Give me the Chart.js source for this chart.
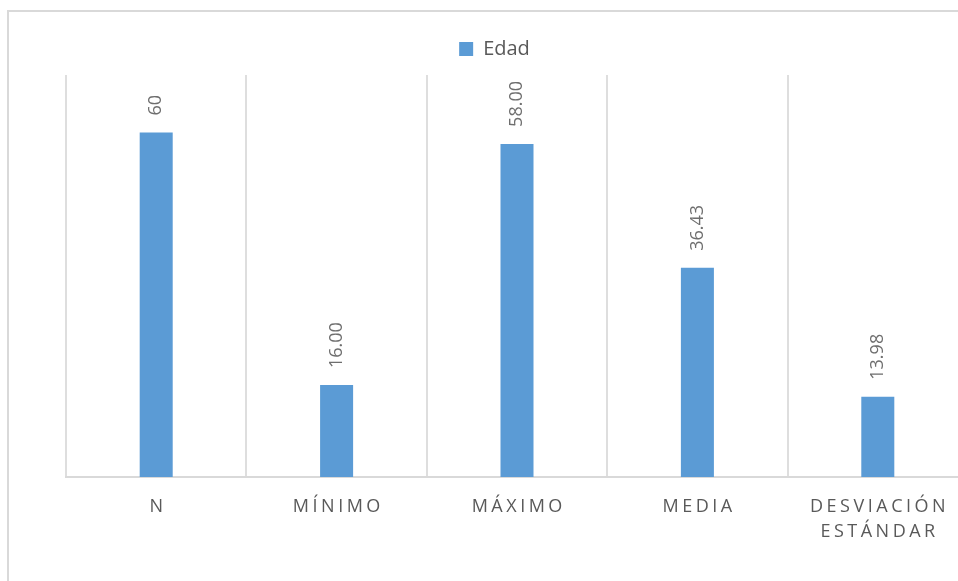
<!DOCTYPE html>
<html lang="es">
<head>
<meta charset="utf-8">
<title>Edad</title>
<script src="https://cdn.jsdelivr.net/npm/chart.js@4/dist/chart.umd.min.js"></script>
<style>
    html, body { margin: 0; padding: 0; background: #fff; overflow: hidden; }
    body { width: 958px; height: 581px; position: relative; }
    /* marco exterior del gráfico */
    .frame { position: absolute; left: 7px; top: 10px; width: 1100px; height: 700px; border: 2px solid #d9d9d9; }
    #edadChart { position: absolute; left: 0; top: 0; }
</style>
</head>
<body>
<div class="frame"></div>
<canvas id="edadChart" width="1000" height="620"></canvas>
<script>
    // Datos de la tabla descriptiva
    const categorias = ['N', 'MÍNIMO', 'MÁXIMO', 'MEDIA', ['DESVIACIÓN', 'ESTÁNDAR']];
    const edad = [60, 16.00, 58.00, 36.43, 13.98];
    const decimales = [0, 2, 2, 2, 2];

    const azul = '#5B9BD5';
    const gris = '#595959';
    const fuente = "'Open Sans', 'DejaVu Sans', sans-serif";

    // Etiquetas de valor giradas encima de cada barra
    const etiquetasValor = {
        id: 'etiquetasValor',
        afterDatasetsDraw(chart) {
            const ctx = chart.ctx;
            const meta = chart.getDatasetMeta(0);
            ctx.save();
            ctx.font = '18px ' + fuente;
            ctx.fillStyle = '#6e6e6e';
            ctx.textAlign = 'left';
            ctx.textBaseline = 'middle';
            meta.data.forEach(function (bar, i) {
                const texto = edad[i].toFixed(decimales[i]);
                ctx.save();
                ctx.translate(bar.x, bar.y - 17);
                ctx.rotate(-Math.PI / 2);
                ctx.fillText(texto, 0, 0);
                ctx.restore();
            });
            ctx.restore();
        }
    };

    // Etiquetas del eje X con espaciado entre letras
    const etiquetasEje = {
        id: 'etiquetasEje',
        afterDraw(chart) {
            const ctx = chart.ctx;
            const x = chart.scales.x;
            const espacio = 3.5;
            ctx.save();
            ctx.font = '18px ' + fuente;
            ctx.fillStyle = gris;
            ctx.textAlign = 'center';
            ctx.textBaseline = 'alphabetic';
            ctx.letterSpacing = espacio + 'px';
            categorias.forEach(function (cat, i) {
                const lineas = Array.isArray(cat) ? cat : [cat];
                const px = x.getPixelForTick(i) + espacio / 2;
                lineas.forEach(function (linea, j) {
                    ctx.fillText(linea, px, chart.chartArea.bottom + 35 + j * 25);
                });
            });
            ctx.restore();
        }
    };

    const ctx = document.getElementById('edadChart').getContext('2d');
    new Chart(ctx, {
        type: 'bar',
        data: {
            labels: categorias,
            datasets: [{
                label: 'Edad',
                data: edad,
                backgroundColor: azul,
                borderWidth: 0,
                barPercentage: 0.183,
                categoryPercentage: 1,
            }],
        },
        options: {
            responsive: false,
            animation: false,
            layout: {
                padding: { top: 29, left: 21, right: 32, bottom: 143 },
            },
            scales: {
                x: {
                    grid: {
                        display: true,
                        color: '#dedede',
                        lineWidth: 2,
                        drawTicks: false,
                        offset: true,
                    },
                    border: { display: true, color: '#d9d9d9', width: 2 },
                    ticks: { display: false },
                },
                y: {
                    min: 0,
                    max: 70,
                    grid: { display: false },
                    border: { display: false },
                    ticks: { display: false },
                    afterFit: function (scale) {
                        scale.width = 45;
                    },
                },
            },
            plugins: {
                legend: {
                    position: 'top',
                    labels: {
                        boxWidth: 14,
                        boxHeight: 14,
                        padding: 10,
                        color: gris,
                        font: { family: fuente, size: 20 },
                    },
                },
                // separación entre la leyenda y el área del gráfico
                title: {
                    display: true,
                    text: '',
                    weight: 500,
                    padding: 0,
                    font: { size: 6, lineHeight: 1 },
                },
                tooltip: { enabled: false },
            },
        },
        plugins: [etiquetasValor, etiquetasEje],
    });
</script>
</body>
</html>
